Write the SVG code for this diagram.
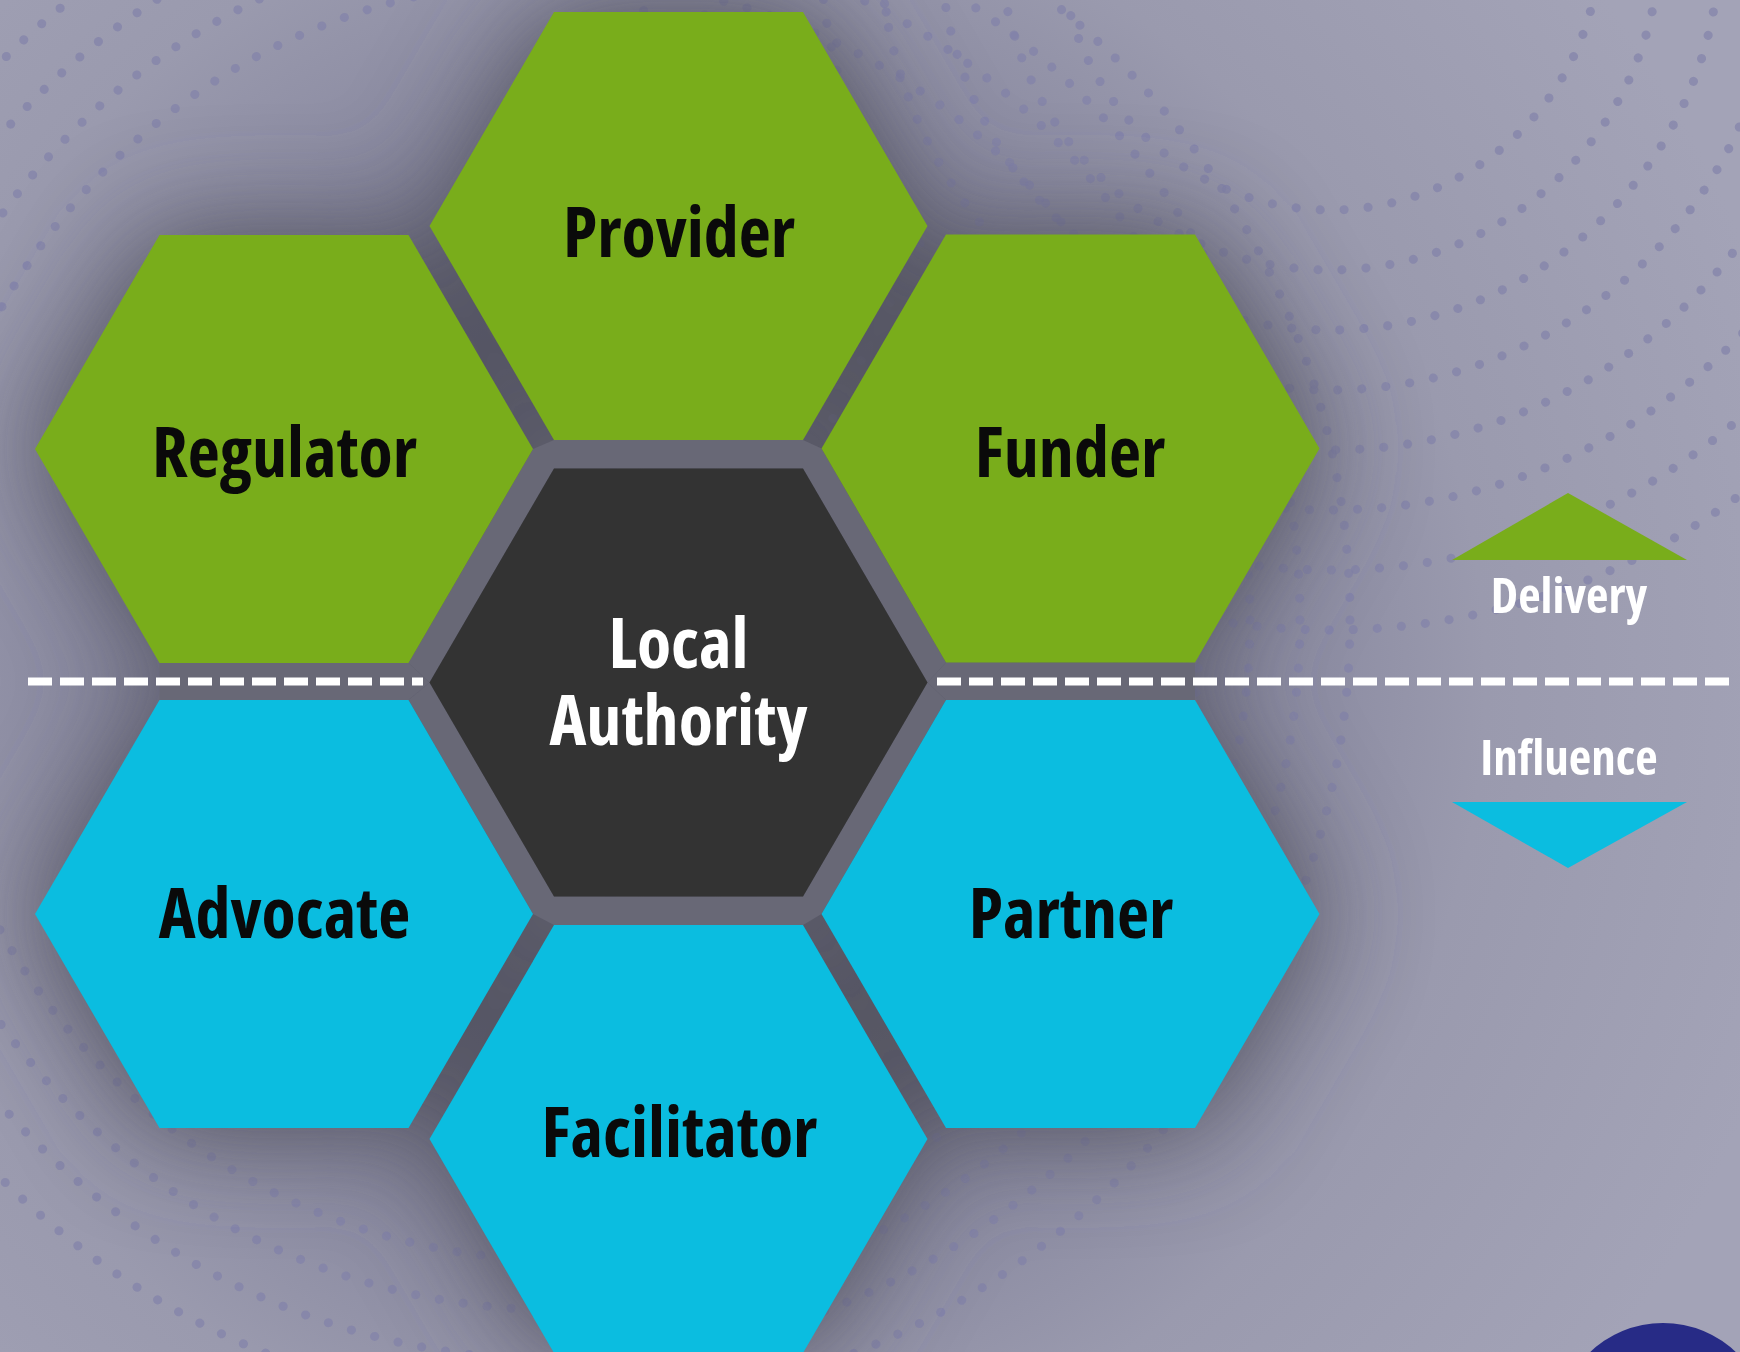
<svg xmlns="http://www.w3.org/2000/svg" xmlns:xlink="http://www.w3.org/1999/xlink" width="1740" height="1352" viewBox="0 0 1740 1352">
  <defs>
    <style>
      .lbl { font-family: "Open Sans", "Liberation Sans", sans-serif; font-weight: 700; font-stretch: 75%; text-anchor: middle; }
      .main { font-size: 70px; fill: #0a0a0a; }
      .inv { fill: #ffffff; }
      .leg { font-size: 49px; fill: #ffffff; }
      .green { fill: #79ad1b; }
      .cyan { fill: #0bbde0; }
      .dark { fill: #333333; }
      .dots { fill: none; stroke: #8282aa; stroke-width: 9; stroke-linecap: round; stroke-dasharray: 0.1 24; opacity: 0.7; }
      .dash { stroke: #ffffff; stroke-width: 8; stroke-dasharray: 24 8; }
    </style>
    <polygon id="hex" points="-249,0 -124.5,-214 124.5,-214 249,0 124.5,214 -124.5,214"/>
    <radialGradient id="bgGrad" cx="680" cy="680" r="1150" gradientUnits="userSpaceOnUse">
      <stop offset="0" stop-color="#6a6a78"/>
      <stop offset="0.4" stop-color="#808098"/>
      <stop offset="0.7" stop-color="#9a9aae"/>
      <stop offset="1" stop-color="#a3a3b7"/>
    </radialGradient>
    <filter id="blur" x="-50%" y="-50%" width="200%" height="200%">
      <feGaussianBlur stdDeviation="55"/>
    </filter>
  </defs>

  <!-- background -->
  <rect x="0" y="0" width="1740" height="1352" fill="url(#bgGrad)"/>
  <g id="background-dots">
    <circle class="dots" cx="1330" cy="-60" r="270"/>
    <circle class="dots" cx="1330" cy="-60" r="330"/>
    <circle class="dots" cx="1330" cy="-60" r="390"/>
    <circle class="dots" cx="1330" cy="-60" r="450"/>
    <circle class="dots" cx="1330" cy="-60" r="510"/>
    <circle class="dots" cx="1330" cy="-60" r="570"/>
    <circle class="dots" cx="1330" cy="-60" r="630"/>
    <circle class="dots" cx="1330" cy="-60" r="690"/>
    <circle class="dots" cx="560" cy="620" r="640"/>
    <circle class="dots" cx="560" cy="620" r="690"/>
    <circle class="dots" cx="560" cy="620" r="740"/>
    <circle class="dots" cx="560" cy="620" r="790"/>
  </g>
  <g id="cluster-shadow" filter="url(#blur)" fill="#50505c">
    <use xlink:href="#hex" transform="translate(678.5,226)"/>
    <use xlink:href="#hex" transform="translate(678.5,682.5)"/>
    <use xlink:href="#hex" transform="translate(678.5,1139)"/>
    <use xlink:href="#hex" transform="translate(284,449)"/>
    <use xlink:href="#hex" transform="translate(1070.5,448.5)"/>
    <use xlink:href="#hex" transform="translate(284,914)"/>
    <use xlink:href="#hex" transform="translate(1070.5,914)"/>
  </g>
  <g id="gaps" fill="#686876">
    <polygon points="533,449 554,440 554,468.5 429.5,682.5 408.5,663 " />
    <polygon points="803,440 821.5,448.5 946,662.5 927.5,682.5 803,468.5"/>
    <polygon points="408.5,700 429.5,682.5 554,896.5 554,925 533,914"/>
    <polygon points="927.5,682.5 946,700 821.5,914 803,925 803,896.5"/>
    <rect x="554" y="440" width="249" height="28.5"/>
    <rect x="554" y="896.5" width="249" height="28.5"/>
    <rect x="159.5" y="663" width="249" height="37"/>
    <rect x="946" y="662.5" width="249" height="37.5"/>
    <polygon points="408.5,663 429.5,682.5 408.5,700 300,700 300,663"/>
    <polygon points="946,662.5 927.5,682.5 946,700 1000,700 1000,662.5"/>
  </g>

  <!-- nodes -->
  <g id="provider">
    <use xlink:href="#hex" class="green" transform="translate(678.5,226)"/>
    <text class="lbl main" x="679" y="257">Provider</text>
  </g>
  <g id="regulator">
    <use xlink:href="#hex" class="green" transform="translate(284,449)"/>
    <text class="lbl main" x="284.5" y="477">Regulator</text>
  </g>
  <g id="funder">
    <use xlink:href="#hex" class="green" transform="translate(1070.5,448.5)"/>
    <text class="lbl main" x="1070" y="477">Funder</text>
  </g>
  <g id="local-authority">
    <use xlink:href="#hex" class="dark" transform="translate(678.5,682.5)"/>
    <text class="lbl main inv" x="678.5" y="668">Local</text>
    <text class="lbl main inv" x="678.5" y="745">Authority</text>
  </g>
  <g id="advocate">
    <use xlink:href="#hex" class="cyan" transform="translate(284,914)"/>
    <text class="lbl main" x="284.5" y="938">Advocate</text>
  </g>
  <g id="partner">
    <use xlink:href="#hex" class="cyan" transform="translate(1070.5,914)"/>
    <text class="lbl main" x="1071" y="938">Partner</text>
  </g>
  <g id="facilitator">
    <use xlink:href="#hex" class="cyan" transform="translate(678.5,1139)"/>
    <text class="lbl main" x="679.5" y="1157">Facilitator</text>
  </g>

  <!-- legend -->
  <g id="legend-delivery">
    <polygon class="green" points="1452,560 1568,493 1687,560"/>
    <text class="lbl leg" x="1569" y="613">Delivery</text>
  </g>
  <g id="legend-influence">
    <text class="lbl leg" x="1569" y="775">Influence</text>
    <polygon class="cyan" points="1452,802 1687,802 1568,868"/>
  </g>

  <!-- connectors / dividers -->
  <g id="connectors">
    <line class="dash" x1="28" y1="681.5" x2="423" y2="681.5"/>
    <line class="dash" x1="937" y1="681.5" x2="1729" y2="681.5"/>
  </g>

  <circle id="corner-badge" cx="1663" cy="1429" r="106" fill="#272b86"/>
</svg>
